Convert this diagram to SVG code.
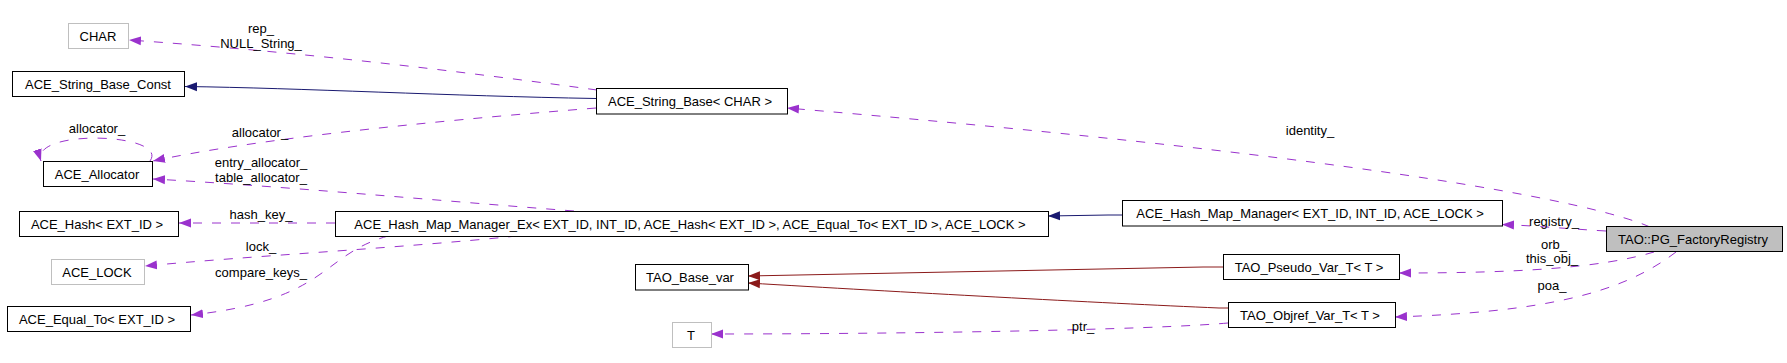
<svg xmlns="http://www.w3.org/2000/svg" width="1787" height="363" viewBox="0 0 1787 363">
<style>
.n{fill:#ffffff;stroke:#000000;stroke-width:1}
.g{fill:#ffffff;stroke:#bfbfbf;stroke-width:1}
.h{fill:#bfbfbf;stroke:#000000;stroke-width:1}
text{font-family:"Liberation Sans",Arial,sans-serif;font-size:13px;fill:#000000;text-anchor:middle}
.d{fill:none;stroke:#9a32cd;stroke-width:1;stroke-dasharray:9,10;marker-end:url(#ap)}
.b{fill:none;stroke:#191970;stroke-width:1;marker-end:url(#ab)}
.r{fill:none;stroke:#8b1a1a;stroke-width:1;marker-end:url(#ar)}
</style>
<defs>
<marker id="ap" markerWidth="13" markerHeight="10" refX="12" refY="5" orient="auto" markerUnits="userSpaceOnUse"><path d="M0,0.5 L12,5 L0,9.5 z" fill="#9a32cd"/></marker>
<marker id="ab" markerWidth="13" markerHeight="10" refX="12" refY="5" orient="auto" markerUnits="userSpaceOnUse"><path d="M0,0.5 L12,5 L0,9.5 z" fill="#191970"/></marker>
<marker id="ar" markerWidth="13" markerHeight="10" refX="12" refY="5" orient="auto" markerUnits="userSpaceOnUse"><path d="M0,0.5 L12,5 L0,9.5 z" fill="#8b1a1a"/></marker>
</defs>
<rect x="0" y="0" width="1787" height="363" fill="#ffffff"/>
<g id="edges">
<path class="d" d="M597,90 C450,70 300,52 129,40"/>
<path class="b" d="M596,98.5 C450,96 300,88 185,86.5"/>
<path class="d" d="M596,108 C420,122 250,140 153,161"/>
<path class="d" d="M150,161 C170,133 30,128 41,161"/>
<path class="d" d="M574,211 C430,200 280,186 153,179"/>
<path class="d" d="M335,223 L179,223"/>
<path class="d" d="M517,236 C400,248 250,256 145,266"/>
<path class="d" d="M388,236 C320,255 330,300 191,315"/>
<path class="b" d="M1122,215 L1108,215 L1048,216"/>
<path class="d" d="M1650,227 C1600,205 1400,160 787,108"/>
<path class="d" d="M1606,231 C1570,229 1540,226 1502,224.5"/>
<path class="d" d="M1654,252 C1600,268 1520,273 1399,273"/>
<path class="d" d="M1676,252 C1620,295 1540,312 1395,317"/>
<path class="r" d="M1223,267 L1203,267 L748,276"/>
<path class="r" d="M1228,308 L1219,308 C1100,303 900,292 748,283"/>
<path class="d" d="M1228,323 C1150,330 900,334 711,334"/>
<text x="261" y="33">rep_</text>
<text x="261" y="48">NULL_String_</text>
<text x="97" y="133">allocator_</text>
<text x="260" y="137">allocator_</text>
<text x="261" y="167">entry_allocator_</text>
<text x="261" y="182">table_allocator_</text>
<text x="261" y="219">hash_key_</text>
<text x="261" y="251">lock_</text>
<text x="261" y="277">compare_keys_</text>
<text x="1310" y="135">identity_</text>
<text x="1554" y="226">registry_</text>
<text x="1554" y="249">orb_</text>
<text x="1552" y="263">this_obj_</text>
<text x="1552" y="290">poa_</text>
<text x="1083" y="331">ptr_</text>
</g>
<g id="n_char"><rect class="g" x="68.5" y="23.5" width="60" height="25"/><text x="98" y="40.5">CHAR</text></g>
<g id="n_string_base_const"><rect class="n" x="12.5" y="71.5" width="172" height="25"/><text x="98" y="88.5">ACE_String_Base_Const</text></g>
<g id="n_allocator"><rect class="n" x="43.5" y="161.5" width="109" height="25"/><text x="97" y="178.5">ACE_Allocator</text></g>
<g id="n_hash"><rect class="n" x="19.5" y="211.5" width="159" height="25"/><text x="97" y="228.5">ACE_Hash&lt; EXT_ID &gt;</text></g>
<g id="n_lock"><rect class="g" x="51.5" y="259.5" width="93" height="25"/><text x="97" y="276.5">ACE_LOCK</text></g>
<g id="n_equal_to"><rect class="n" x="7.5" y="306.5" width="183" height="25"/><text x="97" y="323.5">ACE_Equal_To&lt; EXT_ID &gt;</text></g>
<g id="n_string_base"><rect class="n" x="596.5" y="88.5" width="191" height="25.5"/><text x="690" y="105.5">ACE_String_Base&lt; CHAR &gt;</text></g>
<g id="n_hash_map_manager_ex"><rect class="n" x="335.5" y="211.5" width="713" height="25"/><text x="690" y="228.5">ACE_Hash_Map_Manager_Ex&lt; EXT_ID, INT_ID, ACE_Hash&lt; EXT_ID &gt;, ACE_Equal_To&lt; EXT_ID &gt;, ACE_LOCK &gt;</text></g>
<g id="n_base_var"><rect class="n" x="635.5" y="264.5" width="113" height="25.5"/><text x="690" y="281.5">TAO_Base_var</text></g>
<g id="n_t"><rect class="g" x="672.5" y="322.5" width="39" height="25"/><text x="691" y="339.5">T</text></g>
<g id="n_hash_map_manager"><rect class="n" x="1122.5" y="200.5" width="380" height="25.5"/><text x="1310" y="217.5">ACE_Hash_Map_Manager&lt; EXT_ID, INT_ID, ACE_LOCK &gt;</text></g>
<g id="n_pseudo_var"><rect class="n" x="1223.5" y="254.5" width="176" height="25"/><text x="1309" y="271.5">TAO_Pseudo_Var_T&lt; T &gt;</text></g>
<g id="n_objref_var"><rect class="n" x="1228.5" y="302.5" width="167" height="25"/><text x="1310" y="319.5">TAO_Objref_Var_T&lt; T &gt;</text></g>
<g id="n_factory_registry"><rect class="h" x="1606.5" y="226.5" width="176" height="25"/><text x="1693" y="243.5">TAO::PG_FactoryRegistry</text></g>
</svg>
